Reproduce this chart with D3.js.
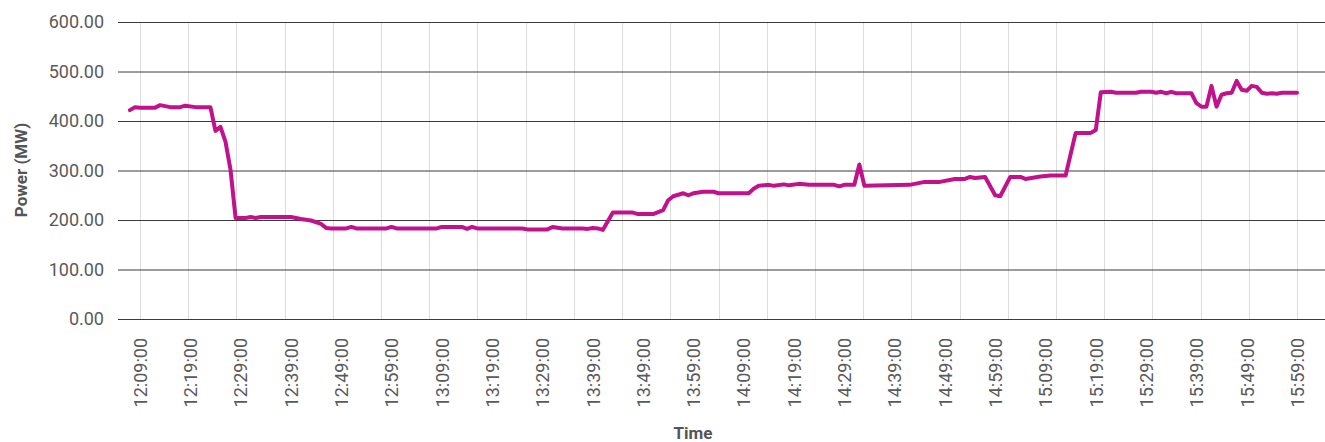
<!DOCTYPE html>
<html>
<head>
<meta charset="utf-8">
<script src="https://cdn.jsdelivr.net/npm/d3@7"></script>
<style>
  html, body { margin: 0; padding: 0; background: #fff; }
  svg { display: block; }
  text { font-family: Roboto, "Noto Sans", sans-serif; }
</style>
</head>
<body>
<svg id="chart" width="1325" height="442"></svg>
<script>
const times = ["12:07","12:08","12:09","12:12","12:13","12:15","12:17","12:18","12:20","12:23",
  "12:24","12:25","12:26","12:27","12:28","12:30","12:31","12:32","12:33","12:39",
  "12:41","12:43","12:45","12:46","12:47","12:50","12:51","12:52","12:58","12:59",
  "13:00","13:08","13:09","13:13","13:14","13:15","13:16","13:25","13:26","13:30",
  "13:31","13:33","13:37","13:38","13:39","13:40","13:41","13:43","13:47","13:48",
  "13:51","13:53","13:54","13:55","13:57","13:58","13:59","14:01","14:03","14:04",
  "14:10","14:11","14:12","14:14","14:15","14:17","14:18","14:20","14:22","14:27",
  "14:28","14:29","14:31","14:32","14:33","14:42","14:43","14:45","14:48","14:51",
  "14:53","14:54","14:55","14:57","14:59","15:00","15:02","15:04","15:05","15:08",
  "15:10","15:13","15:15","15:18","15:19","15:20","15:22","15:23","15:27","15:28",
  "15:30","15:31","15:32","15:33","15:34","15:35","15:38","15:39","15:40","15:41",
  "15:42","15:43","15:44","15:45","15:46","15:47","15:48","15:49","15:50","15:51",
  "15:52","15:53","15:54","15:55","15:56","15:59"];
const power = [422,428,427,427,432,428,428,431,428,428,
  380,388,358,301,204,204,206,204,206,206,
  202,199,192,184,183,183,186,183,183,186,
  183,183,186,186,182,186,183,183,181,181,
  186,183,183,182,184,183,180,215,215,212,
  212,220,240,248,254,250,254,257,257,254,
  254,263,269,271,269,272,270,273,271,271,
  268,271,271,312,269,271,273,277,277,283,
  283,287,285,287,250,248,287,287,283,288,
  290,290,376,376,382,458,459,457,457,459,
  459,457,459,456,459,456,456,436,429,429,
  471,429,453,456,457,481,463,461,471,469,
  457,455,456,455,457,457];
const xTickLabels = ["12:09:00","12:19:00","12:29:00","12:39:00","12:49:00","12:59:00",
  "13:09:00","13:19:00","13:29:00","13:39:00","13:49:00","13:59:00",
  "14:09:00","14:19:00","14:29:00","14:39:00","14:49:00","14:59:00",
  "15:09:00","15:19:00","15:29:00","15:39:00","15:49:00","15:59:00"];
const yTicks = [0, 100, 200, 300, 400, 500, 600];
const xTitle = "Time";
const yTitle = "Power (MW)";

const parseHM = d3.timeParse("%H:%M");
const parseHMS = d3.timeParse("%H:%M:%S");
const data = times.map((t, i) => ({ t: parseHM(t), v: power[i] }));
const tickDates = xTickLabels.map(parseHMS);

const svg = d3.select("#chart");
const plotLeft = 118, plotRight = 1325;

const x = d3.scaleTime()
  .domain([tickDates[0], tickDates[tickDates.length - 1]])
  .range([140, 1297]);
const y = d3.scaleLinear().domain([0, 600]).range([319, 22]);

// vertical grid lines (25 evenly spaced)
const t0 = +tickDates[0], t1 = +tickDates[tickDates.length - 1];
const vGrid = d3.range(25).map(i => new Date(t0 + i * (t1 - t0) / 24));
svg.append("g").selectAll("line").data(vGrid).join("line")
  .attr("x1", d => Math.round(x(d)) + 0.5).attr("x2", d => Math.round(x(d)) + 0.5)
  .attr("y1", y(600)).attr("y2", y(0))
  .attr("stroke", "#dcdcdc").attr("stroke-width", 1);

// horizontal grid lines + y axis labels
const yAxis = d3.axisLeft(y).tickValues(yTicks).tickFormat(d3.format(".2f"))
  .tickSize(-(plotRight - plotLeft)).tickPadding(14);
const gy = svg.append("g").attr("transform", `translate(${plotLeft},0)`).call(yAxis);
gy.select(".domain").remove();
gy.selectAll(".tick line").attr("stroke", "#3a3a3a").attr("stroke-width", 1);
gy.selectAll(".tick text").attr("fill", "#5a5a5a").style("font-size", "18px")
  .attr("x", -14);

// x axis labels
const xAxis = d3.axisBottom(x).tickValues(tickDates).tickFormat(d3.timeFormat("%H:%M:%S"))
  .tickSize(0);
const gx = svg.append("g").attr("transform", `translate(0,${y(0)})`).call(xAxis);
gx.select(".domain").remove();
gx.selectAll(".tick text")
  .attr("fill", "#5a5a5a").style("font-size", "18px")
  .attr("text-anchor", "end")
  .attr("transform", "rotate(-90)")
  .attr("x", -19).attr("y", 0).attr("dy", "0.35em");

// line
const line = d3.line().x(d => x(d.t)).y(d => y(d.v));
svg.append("path").datum(data)
  .attr("d", line)
  .attr("fill", "none")
  .attr("stroke", "#c1128b")
  .attr("stroke-width", 4)
  .attr("stroke-linejoin", "round")
  .attr("stroke-linecap", "round");

// axis titles
svg.append("text").text(xTitle)
  .attr("x", 693).attr("y", 439)
  .attr("text-anchor", "middle")
  .attr("fill", "#555").style("font-size", "17px").style("font-weight", "bold");
svg.append("text").text(yTitle)
  .attr("transform", "translate(27,170) rotate(-90)")
  .attr("text-anchor", "middle")
  .attr("fill", "#555").style("font-size", "17px").style("font-weight", "bold");
</script>
</body>
</html>
